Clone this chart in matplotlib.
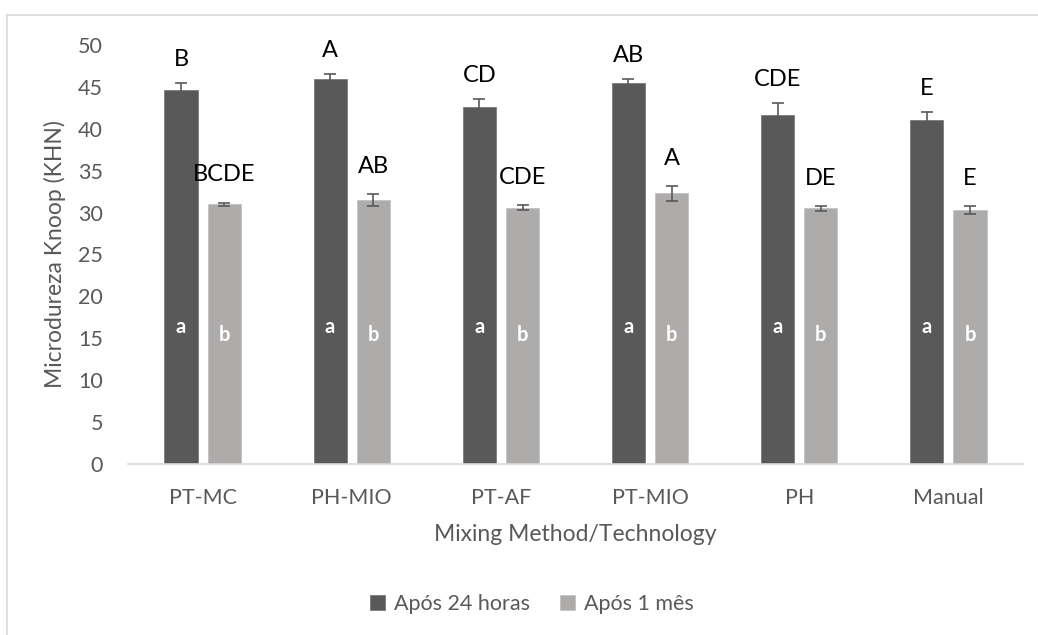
import numpy as np
import matplotlib.pyplot as plt
from matplotlib.lines import Line2D

# Knoop microhardness by mixing method, two storage times
methods = ["PT-MC", "PH-MIO", "PT-AF", "PT-MIO", "PH", "Manual"]
h24 = [44.6, 45.9, 42.6, 45.5, 41.7, 41.0]
h24_err = [0.9, 0.6, 1.0, 0.5, 1.4, 0.95]
m1 = [31.0, 31.5, 30.6, 32.3, 30.5, 30.3]
m1_err = [0.2, 0.7, 0.3, 0.9, 0.3, 0.5]

# statistical group letters
h24_groups = ["B", "A", "CD", "AB", "CDE", "E"]
m1_groups = ["BCDE", "AB", "CDE", "A", "DE", "E"]
h24_inner = ["a"] * 6
m1_inner = ["b"] * 6

dark = "#595959"
light = "#aeabab"
grey_txt = "#595959"

plt.rcParams["font.family"] = ["Lato", "DejaVu Sans"]

W, H = 1038, 635
fig = plt.figure(figsize=(W / 100, H / 100), dpi=100)
ax = fig.add_axes([128 / W, 1 - 464 / H, (1023 - 128) / W, (464 - 45) / H])

x = np.arange(len(methods))
bw = 0.222
off = 0.145

eb = dict(ecolor=dark, elinewidth=1.2, capsize=4, capthick=1.2)
ax.bar(x - off, h24, bw, color=dark, edgecolor="#7a7a7a", linewidth=0.6,
       yerr=h24_err, error_kw=eb, label="Após 24 horas", zorder=2)
ax.bar(x + off, m1, bw, color=light, edgecolor="#c4c2c2", linewidth=0.6,
       yerr=m1_err, error_kw=eb, label="Após 1 mês", zorder=2)

for i in range(len(methods)):
    ax.text(x[i] - off, h24[i] + h24_err[i] + 2.8, h24_groups[i],
            ha="center", va="center", fontsize=17, color="black")
    ax.text(x[i] + off, m1[i] + m1_err[i] + 3.3, m1_groups[i],
            ha="center", va="center", fontsize=17, color="black")
    ax.text(x[i] - off, 16.3, h24_inner[i], ha="center", va="center",
            fontsize=14.5, fontweight="bold", color="white", zorder=3)
    ax.text(x[i] + off, 15.4, m1_inner[i], ha="center", va="center",
            fontsize=14.5, fontweight="bold", color="white", zorder=3)

ax.set_xlim(-0.5, len(methods) - 0.5)
ax.set_ylim(0, 50)
ax.set_yticks(np.arange(0, 51, 5))
ax.set_xticks(x)
ax.set_xticklabels(methods)
ax.tick_params(axis="both", length=0, labelsize=15.5, labelcolor=grey_txt)
ax.tick_params(axis="y", pad=18)
ax.tick_params(axis="x", pad=17)

for s in ["top", "right", "left"]:
    ax.spines[s].set_visible(False)
ax.spines["bottom"].set_color("#d9d9d9")
ax.spines["bottom"].set_linewidth(1.2)

ax.set_xlabel("Mixing Method/Technology", fontsize=16.5, color=grey_txt, labelpad=12)
ax.set_ylabel("Microdureza Knoop (KHN)", fontsize=16.5, color=grey_txt, labelpad=9)

leg = fig.legend(loc="center", bbox_to_anchor=(0.5125, 1 - 604 / H), ncol=2,
                 frameon=False, fontsize=15.5, handlelength=0.7,
                 handleheight=0.7, handletextpad=0.4, columnspacing=1.4)
for t in leg.get_texts():
    t.set_color(grey_txt)

# chart area border
fig.add_artist(Line2D([7 / W, 7 / W], [0, 1 - 15 / H], transform=fig.transFigure,
                      color="#d9d9d9", linewidth=1.2))
fig.add_artist(Line2D([7 / W, 1], [1 - 15 / H, 1 - 15 / H], transform=fig.transFigure,
                      color="#d9d9d9", linewidth=1.2))

fig.savefig("out.png", dpi=100)
